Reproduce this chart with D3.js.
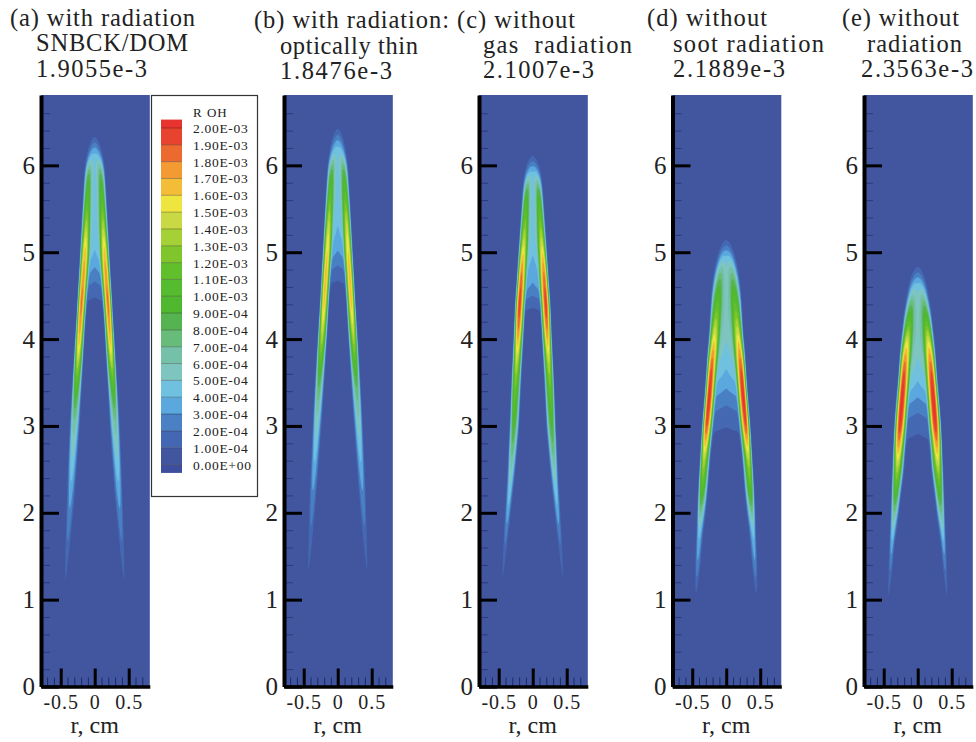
<!DOCTYPE html>
<html>
<head>
<meta charset="utf-8">
<script src="https://d3js.org/d3.v7.min.js"></script>
<style>
  body { margin: 0; background: #fff; }
  text { font-family: "Liberation Serif", serif; fill: #222; }
</style>
</head>
<body>
<div id="chart"></div>
<script>
// contour levels, in units of 1e-4
const levels = d3.range(0, 21);
const levelLabels = ["0.00E+00", "1.00E-04", "2.00E-04", "3.00E-04", "4.00E-04", "5.00E-04", "6.00E-04",
  "7.00E-04", "8.00E-04", "9.00E-04", "1.00E-03", "1.10E-03", "1.20E-03", "1.30E-03", "1.40E-03",
  "1.50E-03", "1.60E-03", "1.70E-03", "1.80E-03", "1.90E-03", "2.00E-03"];
// first colour is below level 0, then one per level going up
const bandColors = ["#3d4e9e", "#42559f", "#4467b3", "#4a80c4", "#5aa8de", "#70c0e0", "#7ec5c0", "#74c0a8",
  "#68bc7a", "#55b450", "#4fb82f", "#55bb2f", "#60bf2b", "#7fc52b", "#a6d136", "#c8d944", "#efe53f",
  "#f4bd38", "#f39a32", "#ec6a30", "#e8432f", "#e8342f"];

const titlesA = ["(a) with radiation", "SNBCK/DOM", "1.9055e-3"];
const titlesB = ["(b) with radiation:", "optically thin", "1.8476e-3"];
const titlesC = ["(c) without", "gas  radiation", "2.1007e-3"];
const titlesD = ["(d) without", "soot radiation", "2.1889e-3"];
const titlesE = ["(e) without", "radiation", "2.3563e-3"];

const xMajor = [-0.5, 0, 0.5];
const xMinor = [-0.7, -0.6, -0.4, -0.3, -0.2, -0.1, 0.1, 0.2, 0.3, 0.4, 0.6, 0.7];
const yMajor = [0, 1, 2, 3, 4, 5, 6];
const yMinor = [0.2, 0.4, 0.6, 0.8, 1.2, 1.4, 1.6, 1.8, 2.2, 2.4, 2.6, 2.8, 3.2, 3.4, 3.6, 3.8,
  4.2, 4.4, 4.6, 4.8, 5.2, 5.4, 5.6, 5.8, 6.2, 6.4, 6.6];

// flame wing, one entry per height z (cm):
// outer edge r, ridge r, inner edge r (cm), ridge value and axis value (1e-4)
const zA = [6.34, 6.25, 6.15, 6.05, 5.9, 5.6, 5.3, 5.0, 4.75, 4.5, 4.2, 3.9, 3.6, 3.3, 3.0, 2.6, 2.2, 1.8, 1.4, 1.1, 0.9];
const outerA = [0, .075, .105, .13, .155, .175, .195, .215, .23, .25, .27, .295, .32, .345, .37, .395, .415, .435, .45, .46, .47];
const ridgeA = [0, 0, 0, .06, .09, .11, .125, .145, .165, .19, .215, .24, .265, .29, .31, .335, .36, .39, .42, .44, .45];
const innerA = [0, 0, 0, .02, .04, .05, .06, .07, .09, .115, .14, .16, .18, .2, .215, .25, .285, .33, .38, .42, .44];
const peakA = [0, 2.2, 4.5, 5.5, 9, 11, 14, 17, 18, 19, 18.5, 16.5, 12.5, 9, 6.5, 5, 3.5, 2.4, 1.5, 1, 0];
const coreA = [0, 2.2, 4.5, 4.5, 4.5, 4.5, 4.5, 4, 2.5, 1, 0, 0, 0, 0, 0, 0, 0, 0, 0, 0, 0];

const zB = [6.44, 6.34, 6.22, 6.1, 5.95, 5.6, 5.3, 5.0, 4.7, 4.4, 4.1, 3.8, 3.5, 3.1, 2.7, 2.3, 1.9, 1.5, 1.2, 1.0];
const outerB = [0, .08, .11, .13, .155, .18, .20, .22, .24, .26, .285, .31, .335, .365, .39, .415, .435, .45, .465, .475];
const ridgeB = [0, 0, 0, .06, .09, .115, .135, .155, .18, .205, .23, .255, .28, .31, .335, .365, .39, .42, .445, .46];
const innerB = [0, 0, 0, .02, .04, .055, .07, .085, .11, .13, .15, .175, .195, .225, .26, .295, .335, .38, .42, .45];
const peakB = [0, 2.2, 4.5, 5.5, 9, 12, 15, 16.5, 17.5, 17, 15, 12, 8.5, 6, 4.5, 3.2, 2.2, 1.4, 1, 0];
const coreB = [0, 2.2, 4.5, 4.5, 4.5, 4.5, 4, 3, 1, 0, 0, 0, 0, 0, 0, 0, 0, 0, 0, 0];

const zC = [6.11, 6.03, 5.95, 5.85, 5.7, 5.4, 5.1, 4.85, 4.6, 4.4, 4.1, 3.8, 3.5, 3.0, 2.7, 2.4, 2.0, 1.7, 1.3, 1.0, 0.9];
const outerC = [0, .075, .105, .13, .15, .175, .2, .22, .24, .26, .275, .295, .315, .34, .36, .38, .41, .435, .46, .475, .48];
const ridgeC = [0, 0, 0, .06, .09, .11, .135, .16, .18, .196, .215, .235, .255, .285, .305, .325, .37, .405, .44, .46, .47];
const innerC = [0, 0, 0, .02, .035, .05, .06, .08, .095, .113, .13, .15, .17, .196, .23, .265, .32, .36, .41, .45, .46];
const peakC = [0, 2.2, 4.5, 6, 9.5, 12, 15, 18, 19.5, 20.5, 18.5, 15, 12.5, 9.5, 7.5, 5.5, 4, 2.4, 1.3, 0.9, 0];
const coreC = [0, 2.2, 4.5, 4.5, 4.5, 4.5, 4.5, 3.5, 3, 1, 0, 0, 0, 0, 0, 0, 0, 0, 0, 0, 0];

const zD = [5.15, 5.07, 5.0, 4.93, 4.75, 4.5, 4.25, 4.0, 3.8, 3.52, 3.25, 3.0, 2.8, 2.6, 2.3, 2.0, 1.8, 1.4, 1.05, 0.9];
const outerD = [0, .08, .105, .13, .185, .225, .24, .255, .28, .30, .325, .353, .37, .385, .41, .43, .44, .46, .47, .48];
const ridgeD = [0, 0, 0, .05, .09, .12, .15, .18, .205, .235, .265, .294, .315, .335, .36, .385, .40, .43, .45, .47];
const innerD = [0, 0, 0, .02, .03, .05, .07, .09, .115, .147, .17, .196, .22, .24, .265, .3, .33, .37, .42, .46];
const peakD = [0, 2, 3.8, 5, 7.5, 10.5, 13, 16, 18.5, 20.5, 21, 20, 17, 14, 11.5, 7, 4.5, 3, 1, 0];
const coreD = [0, 2, 3.8, 4.5, 5, 5.5, 5.5, 5, 4.5, 3.5, 2, 1, 0.5, 0.2, 0, 0, 0, 0, 0, 0];

const zE = [4.84, 4.76, 4.68, 4.6, 4.44, 4.25, 4.0, 3.8, 3.5, 3.25, 3.0, 2.8, 2.52, 2.2, 2.0, 1.65, 1.3, 0.95, 0.85];
const outerE = [0, .08, .11, .135, .17, .206, .24, .265, .29, .32, .345, .358, .373, .39, .40, .42, .44, .46, .47];
const ridgeE = [0, 0, 0, .05, .09, .127, .157, .185, .216, .24, .265, .285, .304, .33, .348, .382, .41, .44, .45];
const innerE = [0, 0, 0, .02, .03, .05, .07, .09, .118, .14, .157, .18, .2, .25, .275, .338, .37, .42, .44];
const peakE = [0, 2.2, 3.8, 5, 7.5, 10.5, 15, 18, 20.5, 21, 20.5, 18, 14, 10, 7, 4, 2, 1, 0];
const coreE = [0, 2.2, 3.8, 4.5, 5, 5.5, 5.5, 5, 4, 2.5, 1.2, 0.7, 0.3, 0, 0, 0, 0, 0, 0];

const panels = [
  { left: 41, titles: titlesA, z: zA, outer: outerA, ridge: ridgeA, inner: innerA, peak: peakA, core: coreA,
    titleBox: [[10, 195, 26], [36, 188, 51], [36, 147, 77]] },
  { left: 284, titles: titlesB, z: zB, outer: outerB, ridge: ridgeB, inner: innerB, peak: peakB, core: coreB,
    titleBox: [[254, 449, 28], [280, 418, 54], [280, 392, 79]] },
  { left: 479, titles: titlesC, z: zC, outer: outerC, ridge: ridgeC, inner: innerC, peak: peakC, core: coreC,
    titleBox: [[457, 575, 28], [483, 632, 53], [483, 594, 78]] },
  { left: 672.5, titles: titlesD, z: zD, outer: outerD, ridge: ridgeD, inner: innerD, peak: peakD, core: coreD,
    titleBox: [[647, 767, 26], [673, 824, 52], [673, 785, 77]] },
  { left: 864, titles: titlesE, z: zE, outer: outerE, ridge: ridgeE, inner: innerE, peak: peakE, core: coreE,
    titleBox: [[842, 959, 26], [867, 962, 52], [861, 973, 77]] },
];

const width = 976, height = 742;
const plotTop = 95, plotBottom = 686.5, plotWidth = 108.8;
const rMin = -0.79, rMax = 0.81, zMax = 6.81;
const dr = 0.0025, dz = 0.02;

const svg = d3.select("#chart").append("svg")
  .attr("width", width)
  .attr("height", height)
  .style("display", "block");

const defs = svg.append("defs");
defs.append("filter").attr("id", "soft")
  .append("feGaussianBlur").attr("stdDeviation", 0.6);

const y = d3.scaleLinear().domain([0, zMax]).range([plotBottom, plotTop]);
const fillForLevel = d3.scaleOrdinal().domain(levels).range(bandColors.slice(1));

// value at (r, z) from the wing table of a panel
function fieldValue(p, r, z) {
  const zRows = p.z;
  if (z >= zRows[0] || z <= zRows[zRows.length - 1]) return 0;
  const i = d3.bisector((d) => -d).right(zRows, -z) - 1;
  const t = (zRows[i] - z) / (zRows[i] - zRows[i + 1]);
  const at = (arr) => arr[i] + (arr[i + 1] - arr[i]) * t;
  const outer = at(p.outer), ridge = at(p.ridge), inner = at(p.inner), peak = at(p.peak), core = at(p.core);
  const a = Math.abs(r);
  if (a >= outer) return 0;
  // rounded top on both flanks, the red core is wider than a straight slope
  if (a >= ridge) {
    const u = (a - ridge) / (outer - ridge);
    return peak * (1 - u * u);
  }
  const shoulder = core * 1.2;
  if (a >= inner) {
    const u = (ridge - a) / (ridge - inner);
    return shoulder + (peak - shoulder) * (1 - u * u);
  }
  return inner > 0 ? core + (shoulder - core) * a / inner : core;
}

panels.forEach(function (p, idx) {
  const x = d3.scaleLinear().domain([rMin, rMax]).range([p.left, p.left + plotWidth]);
  const g = svg.append("g");

  defs.append("clipPath").attr("id", "clip" + idx)
    .append("rect")
    .attr("x", x(rMin)).attr("y", y(zMax))
    .attr("width", x(rMax) - x(rMin)).attr("height", y(0) - y(zMax));

  g.append("rect")
    .attr("x", x(rMin)).attr("y", y(zMax))
    .attr("width", x(rMax) - x(rMin)).attr("height", y(0) - y(zMax))
    .attr("fill", bandColors[1]);

  // grid for d3.contours, row 0 at z = 0
  const nx = Math.round((rMax - rMin) / dr) + 1;
  const ny = Math.round(zMax / dz) + 1;
  const values = new Float64Array(nx * ny);
  for (let j = 0; j < ny; j++) {
    for (let i = 0; i < nx; i++) {
      values[j * nx + i] = fieldValue(p, rMin + i * dr, j * dz);
    }
  }
  // takes the corners off where the table rows meet
  d3.blur2({ data: values, width: nx, height: ny }, 3, 4);
  const contours = d3.contours().size([nx, ny]).thresholds(levels.slice(1))(values);
  const toPlot = d3.geoTransform({
    point: function (gx, gy) {
      this.stream.point(x(rMin + (gx - 0.5) * dr), y((gy - 0.5) * dz));
    },
  });
  g.append("g")
    .attr("clip-path", `url(#clip${idx})`)
    .append("g")
    .attr("filter", "url(#soft)")
    .selectAll("path")
    .data(contours)
    .enter()
    .append("path")
    .attr("d", d3.geoPath(toPlot))
    .attr("fill", (d) => fillForLevel(d.value));

  // minor ticks
  g.append("g")
    .attr("transform", `translate(0,${y(0)})`)
    .call(d3.axisBottom(x).tickValues(xMinor).tickSize(-9).tickFormat(""))
    .call((s) => s.select(".domain").remove())
    .selectAll("line").attr("stroke", "#1c2a66").attr("stroke-width", 1);
  g.append("g")
    .attr("transform", `translate(${x(rMin)},0)`)
    .call(d3.axisLeft(y).tickValues(yMinor).tickSize(-9).tickFormat(""))
    .call((s) => s.select(".domain").remove())
    .selectAll("line").attr("stroke", "#2c3a7c").attr("stroke-width", 1);

  // major ticks
  const xAxis = g.append("g")
    .attr("transform", `translate(0,${y(0)})`)
    .call(d3.axisBottom(x).tickValues(xMajor).tickSize(-18).tickPadding(8).tickSizeOuter(0).tickFormat((d) => String(d)));
  xAxis.select(".domain").attr("stroke", "#000").attr("stroke-width", 3.5);
  xAxis.selectAll("line").attr("stroke", "#000").attr("stroke-width", 3);
  xAxis.selectAll("text").style("font-size", "20px").style("letter-spacing", "1px")
    .attr("font-family", null).attr("fill", null);

  const yAxis = g.append("g")
    .attr("transform", `translate(${x(rMin)},0)`)
    .call(d3.axisLeft(y).tickValues(yMajor).tickSize(-18).tickPadding(6).tickSizeOuter(0).tickFormat((d) => String(d)));
  yAxis.select(".domain").attr("stroke", "#000").attr("stroke-width", 4);
  yAxis.selectAll("line").attr("stroke", "#000").attr("stroke-width", 3);
  yAxis.selectAll("text").style("font-size", "25px").attr("font-family", null).attr("fill", null);

  g.append("text")
    .attr("x", x(0))
    .attr("y", 733)
    .attr("text-anchor", "middle")
    .style("font-size", "24px")
    .text("r, cm");

  // title lines, stretched to the width they have in the picture
  g.selectAll(".title")
    .data(p.titles)
    .enter()
    .append("text")
    .attr("class", "title")
    .attr("x", (d, i) => p.titleBox[i][0])
    .attr("y", (d, i) => p.titleBox[i][2])
    .attr("textLength", (d, i) => p.titleBox[i][1] - p.titleBox[i][0])
    .attr("lengthAdjust", "spacing")
    .style("white-space", "pre")
    .style("font-size", "24.5px")
    .text((d) => d);
});

// legend
const legendY = d3.scaleLinear().domain([0, 20]).range([464.5, 128]);
const legend = svg.append("g");
legend.append("rect")
  .attr("x", 151.5).attr("y", 95.5)
  .attr("width", 106).attr("height", 401)
  .attr("fill", "#fff").attr("stroke", "#333").attr("stroke-width", 1.2);
legend.append("text")
  .attr("x", 193).attr("y", 117)
  .style("font-size", "13px")
  .style("letter-spacing", "1px")
  .text("R OH");

const bandEdges = [-0.5].concat(levels, [20.5]);
legend.selectAll(".band")
  .data(bandColors)
  .enter()
  .append("rect")
  .attr("class", "band")
  .attr("x", 161)
  .attr("width", 21)
  .attr("y", (d, i) => legendY(bandEdges[i + 1]))
  .attr("height", (d, i) => legendY(bandEdges[i]) - legendY(bandEdges[i + 1]))
  .attr("fill", (d) => d);
legend.selectAll(".sep")
  .data(levels)
  .enter()
  .append("line")
  .attr("class", "sep")
  .attr("x1", 161).attr("x2", 182)
  .attr("y1", (d) => legendY(d)).attr("y2", (d) => legendY(d))
  .attr("stroke", "#000").attr("stroke-opacity", 0.3);
legend.selectAll(".lab")
  .data(levels)
  .enter()
  .append("text")
  .attr("class", "lab")
  .attr("x", 193)
  .attr("y", (d) => legendY(d) + 5)
  .style("font-size", "13.5px")
  .style("letter-spacing", "0.7px")
  .text((d, i) => levelLabels[i]);
</script>
</body>
</html>
